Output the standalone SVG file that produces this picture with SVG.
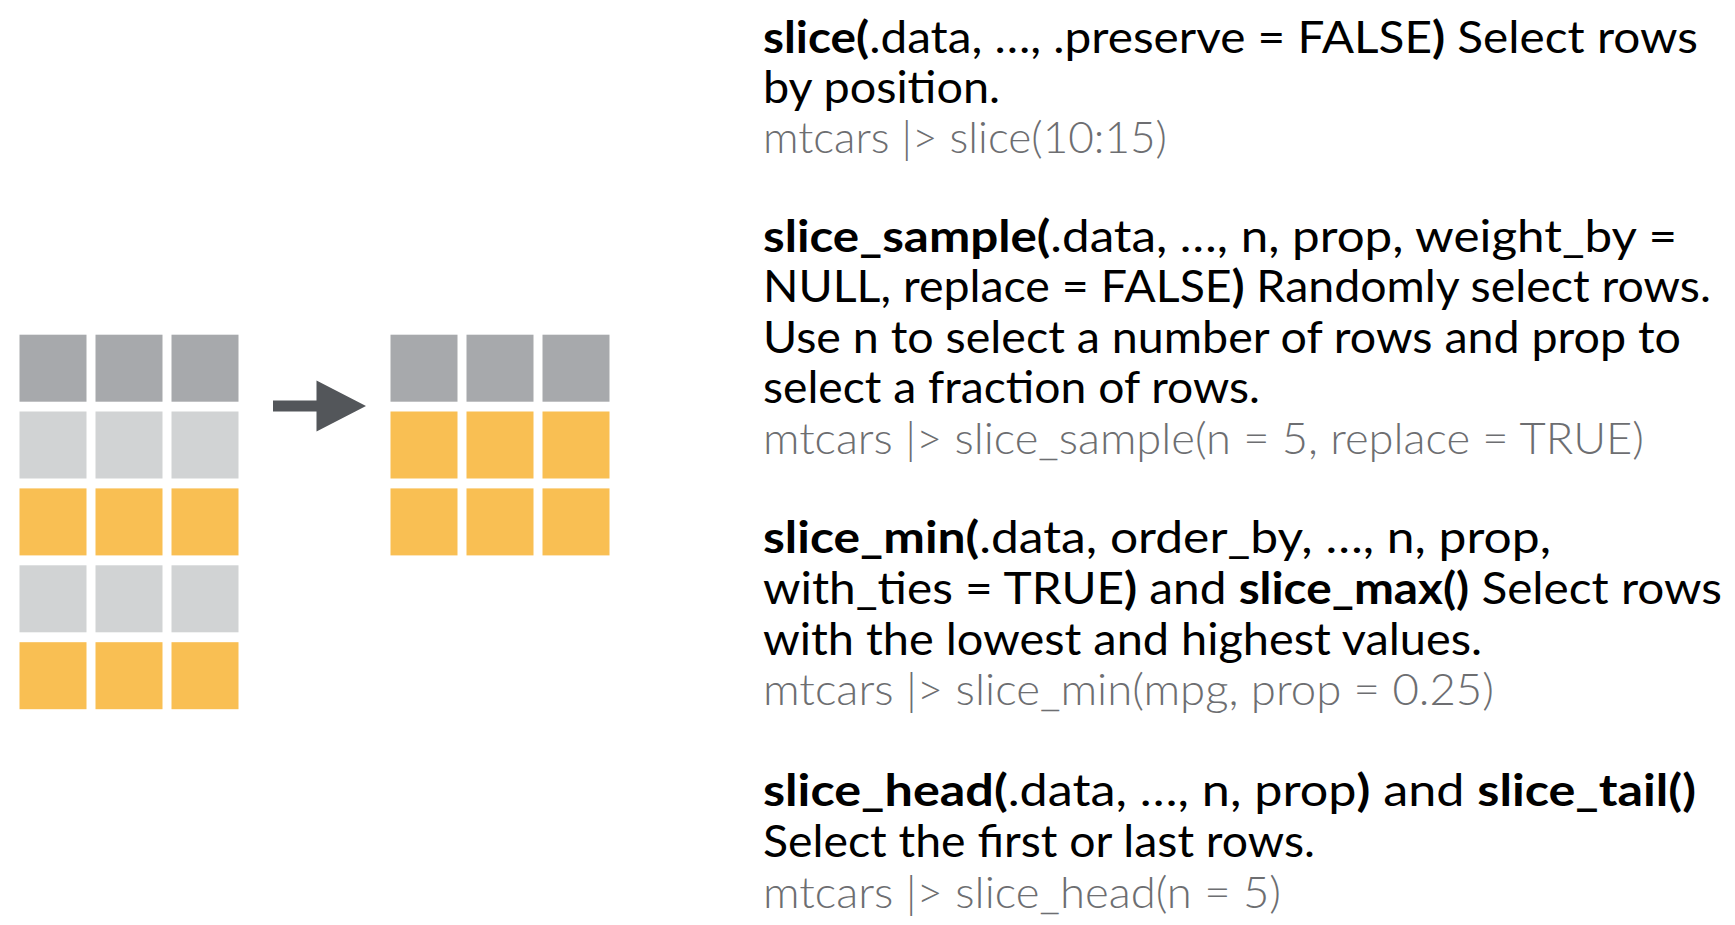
<svg xmlns="http://www.w3.org/2000/svg" width="1735" height="925" viewBox="0 0 1735 925">
<style>
.t{font-family:Lato,"Open Sans","Liberation Sans",sans-serif;font-size:44px;fill:#000}
.b{font-weight:700}
.c{font-weight:300;fill:#6d6e71}
.dk{fill:#a7a9ac}
.lt{fill:#d1d3d4}
.or{fill:#f9bf53}
</style>
<rect width="1735" height="925" fill="#fff"/>
<g id="input-table">
<rect class="dk" x="19.5" y="334.7" width="67" height="67"/>
<rect class="dk" x="95.5" y="334.7" width="67" height="67"/>
<rect class="dk" x="171.5" y="334.7" width="67" height="67"/>
<rect class="lt" x="19.5" y="411.5" width="67" height="67"/>
<rect class="lt" x="95.5" y="411.5" width="67" height="67"/>
<rect class="lt" x="171.5" y="411.5" width="67" height="67"/>
<rect class="or" x="19.5" y="488.4" width="67" height="67"/>
<rect class="or" x="95.5" y="488.4" width="67" height="67"/>
<rect class="or" x="171.5" y="488.4" width="67" height="67"/>
<rect class="lt" x="19.5" y="565.3" width="67" height="67"/>
<rect class="lt" x="95.5" y="565.3" width="67" height="67"/>
<rect class="lt" x="171.5" y="565.3" width="67" height="67"/>
<rect class="or" x="19.5" y="642.2" width="67" height="67"/>
<rect class="or" x="95.5" y="642.2" width="67" height="67"/>
<rect class="or" x="171.5" y="642.2" width="67" height="67"/>
</g>
<g id="output-table">
<rect class="dk" x="390.5" y="334.7" width="67" height="67"/>
<rect class="dk" x="466.5" y="334.7" width="67" height="67"/>
<rect class="dk" x="542.5" y="334.7" width="67" height="67"/>
<rect class="or" x="390.5" y="411.5" width="67" height="67"/>
<rect class="or" x="466.5" y="411.5" width="67" height="67"/>
<rect class="or" x="542.5" y="411.5" width="67" height="67"/>
<rect class="or" x="390.5" y="488.4" width="67" height="67"/>
<rect class="or" x="466.5" y="488.4" width="67" height="67"/>
<rect class="or" x="542.5" y="488.4" width="67" height="67"/>
</g>
<g id="connectors">
<path id="arrow" d="M273,400.5 H316.5 V380.5 L366,406 L316.5,431.5 V411.5 H273 Z" fill="#53565a"/>
</g>
<g id="slice" class="t">
<text x="763" y="53" textLength="935" lengthAdjust="spacingAndGlyphs"><tspan class="b">slice(</tspan>.data, …, .preserve = FALSE<tspan class="b">)</tspan> Select rows</text>
<text x="763" y="103" textLength="237" lengthAdjust="spacingAndGlyphs">by position.</text>
<text class="c" x="763" y="153" textLength="404" lengthAdjust="spacingAndGlyphs">mtcars |&gt; slice(10:15)</text>
</g>
<g id="slice_sample" class="t">
<text x="763" y="252" textLength="914" lengthAdjust="spacingAndGlyphs"><tspan class="b">slice_sample(</tspan>.data, …, n, prop, weight_by =</text>
<text x="763" y="302" textLength="948" lengthAdjust="spacingAndGlyphs">NULL, replace = FALSE<tspan class="b">)</tspan> Randomly select rows.</text>
<text x="763" y="353" textLength="918" lengthAdjust="spacingAndGlyphs">Use n to select a number of rows and prop to</text>
<text x="763" y="403" textLength="497" lengthAdjust="spacingAndGlyphs">select a fraction of rows.</text>
<text class="c" x="763" y="454" textLength="881" lengthAdjust="spacingAndGlyphs">mtcars |&gt; slice_sample(n = 5, replace = TRUE)</text>
</g>
<g id="slice_min" class="t">
<text x="763" y="553" textLength="788" lengthAdjust="spacingAndGlyphs"><tspan class="b">slice_min(</tspan>.data, order_by, …, n, prop,</text>
<text x="763" y="604" textLength="959" lengthAdjust="spacingAndGlyphs">with_ties = TRUE<tspan class="b">)</tspan> and <tspan class="b">slice_max()</tspan> Select rows</text>
<text x="763" y="655" textLength="719" lengthAdjust="spacingAndGlyphs">with the lowest and highest values.</text>
<text class="c" x="763" y="705" textLength="731" lengthAdjust="spacingAndGlyphs">mtcars |&gt; slice_min(mpg, prop = 0.25)</text>
</g>
<g id="slice_head" class="t">
<text x="763" y="806" textLength="933" lengthAdjust="spacingAndGlyphs"><tspan class="b">slice_head(</tspan>.data, …, n, prop<tspan class="b">)</tspan> and <tspan class="b">slice_tail()</tspan></text>
<text x="763" y="857" textLength="552" lengthAdjust="spacingAndGlyphs">Select the first or last rows.</text>
<text class="c" x="763" y="908" textLength="518" lengthAdjust="spacingAndGlyphs">mtcars |&gt; slice_head(n = 5)</text>
</g>
</svg>
